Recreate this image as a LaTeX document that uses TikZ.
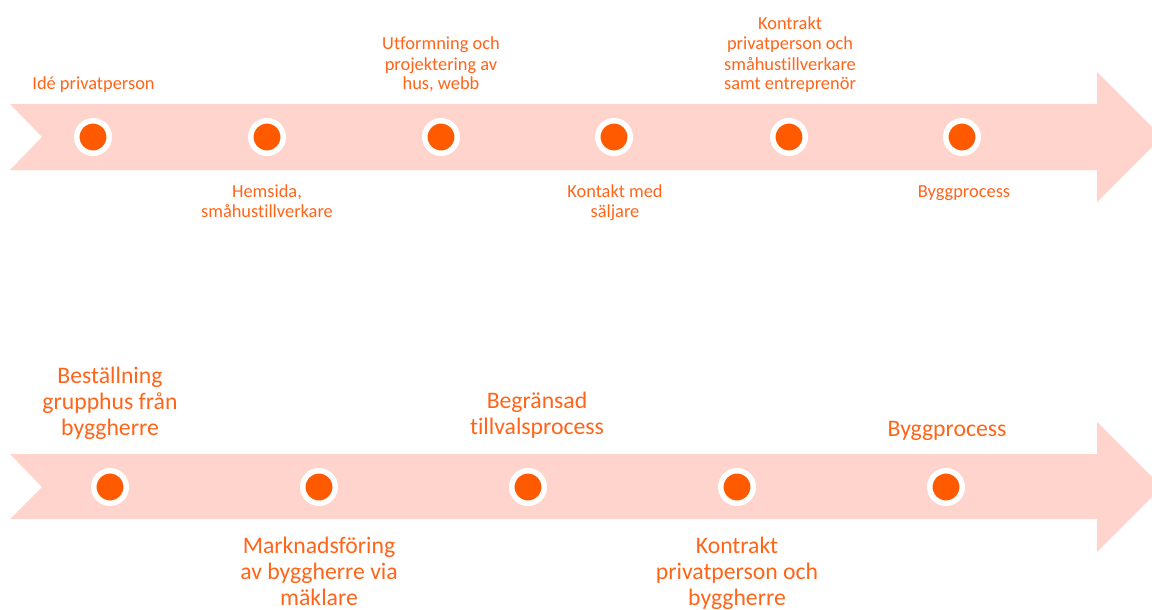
\documentclass[tikz,border=0pt]{standalone}
\usepackage{fontspec}
\setmainfont{Carlito}[Ligatures=NoCommon]
\definecolor{bandc}{HTML}{FFD4CD}
\definecolor{dotc}{HTML}{FF5A00}
\definecolor{txtc}{HTML}{FF6418}
\begin{document}
\begin{tikzpicture}[x=1pt,y=-1pt,
  dotnode/.style={circle,fill=dotc,draw=white,line width=5.5pt,minimum size=32.5pt,inner sep=0pt},
  smalllbl/.style={text=txtc,align=center,inner sep=0pt,anchor=base,font=\fontsize{18.4}{20}\selectfont},
  biglbl/.style={text=txtc,align=center,inner sep=0pt,anchor=base,font=\fontsize{23.7}{26}\selectfont},
  band/.style={fill=bandc,draw=none}]
\useasboundingbox (0,0) rectangle (1152,610);
% top arrow
\fill[band] (10,104) -- (1097,104) -- (1097,72) -- (1162,137) -- (1097,202) -- (1097,170) -- (10,170) -- (42,137) -- cycle;
% bottom arrow
\fill[band] (10,454) -- (1097,454) -- (1097,422) -- (1162,487) -- (1097,552) -- (1097,519) -- (10,519) -- (42,487) -- cycle;
% top dots
\node[dotnode] (t1) at (93,137) {};
\node[dotnode] (t2) at (267,137) {};
\node[dotnode] (t3) at (441,137) {};
\node[dotnode] (t4) at (614,137) {};
\node[dotnode] (t5) at (789,137) {};
\node[dotnode] (t6) at (962,137) {};
% bottom dots
\node[dotnode] (b1) at (110,487) {};
\node[dotnode] (b2) at (319,487) {};
\node[dotnode] (b3) at (528,487) {};
\node[dotnode] (b4) at (737,487) {};
\node[dotnode] (b5) at (946,487) {};
% top labels (anchor = baseline of last line)
\node[smalllbl] (l1) at (93.5,89) {Idé privatperson};
\node[smalllbl] (l2) at (267,217) {Hemsida,\\småhustillverkare};
\node[smalllbl] (l3) at (441,90) {Utformning och\\projektering av\\hus, webb};
\node[smalllbl] (l4) at (615,217) {Kontakt med\\säljare};
\node[smalllbl] (l5) at (790,90) {Kontrakt\\privatperson och\\småhustillverkare\\samt entreprenör};
\node[smalllbl] (l6) at (964,197) {Byggprocess};
% bottom labels
\node[biglbl] (m1) at (110,435) {Beställning\\grupphus från\\byggherre};
\node[biglbl] (m2) at (319,605) {Marknadsföring\\av byggherre via\\mäklare};
\node[biglbl] (m3) at (537,434) {Begränsad\\tillvalsprocess};
\node[biglbl] (m4) at (737,605) {Kontrakt\\privatperson och\\byggherre};
\node[biglbl] (m5) at (947,436) {Byggprocess};
\end{tikzpicture}
\end{document}
